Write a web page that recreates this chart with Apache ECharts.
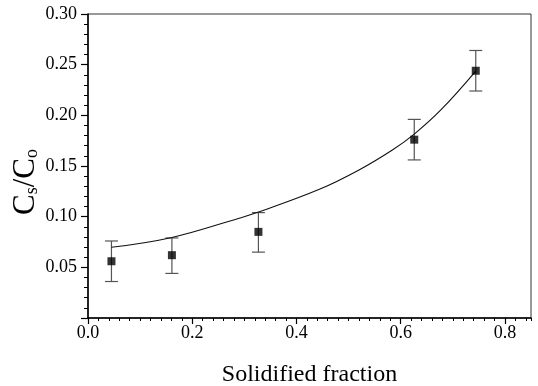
<!DOCTYPE html>
<html>
<head>
<meta charset="utf-8">
<script src="https://cdn.jsdelivr.net/npm/echarts@6/dist/echarts.min.js"></script>
<style>
html,body{margin:0;padding:0;background:#fff;}
#chart{width:538px;height:386px;}
</style>
</head>
<body>
<div id="chart"></div>
<script>
// Measured points (solidified fraction vs Cs/Co)
const fraction = [0.045, 0.161, 0.327, 0.626, 0.744];
const ratio = [0.056, 0.062, 0.085, 0.176, 0.244];
const errorLow = [0.036, 0.044, 0.065, 0.156, 0.224];
const errorHigh = [0.076, 0.079, 0.104, 0.196, 0.264];
// Fitted curve
const fitFraction = [0.045, 0.161, 0.29, 0.327, 0.444, 0.52, 0.584, 0.626, 0.677, 0.744];
const fitRatio = [0.0698, 0.0795, 0.0985, 0.1045, 0.127, 0.1461, 0.1658, 0.1815, 0.2053, 0.2437];
// Axis settings
const xRange = [0, 0.85];
const xMajor = 0.2;
const xMinor = 0.02;
const yRange = [0, 0.30];
const yMajor = 0.05;
const xTitle = 'Solidified fraction';
const yTitle = '{c|C}{s|s}{c|/C}{s|o}';

const FONT = 'Liberation Serif';
const chart = echarts.init(document.getElementById('chart'), null, {renderer: 'canvas'});

const option = {
  animation: false,
  backgroundColor: '#fff',
  grid: {left: 88, right: 7, top: 14, bottom: 68, containLabel: false, outerBoundsMode: 'none',
         show: true, borderColor: '#333', borderWidth: 1, backgroundColor: 'transparent'},
  xAxis: [
    {
      type: 'value', min: xRange[0], max: xRange[1], interval: xMajor, position: 'bottom',
      axisLine: {show: true, onZero: false, lineStyle: {color: '#000', width: 1.5}},
      axisTick: {show: true, length: 6, lineStyle: {color: '#000', width: 1.2}},
      axisLabel: {formatter: v => v.toFixed(1), showMaxLabel: false, fontFamily: FONT, fontSize: 18, color: '#000', margin: 6},
      splitLine: {show: false},
      name: xTitle, nameLocation: 'middle', nameGap: 45, nameMoveOverlap: false,
      nameTextStyle: {fontFamily: FONT, fontSize: 24, color: '#000'}
    },
    {
      type: 'value', min: xRange[0], max: xRange[1], interval: xMinor, position: 'bottom',
      axisLine: {show: false}, axisTick: {show: true, length: 3, lineStyle: {color: '#000', width: 1}},
      axisLabel: {show: false}, splitLine: {show: false}
    }
  ],
  yAxis: {
    type: 'value', min: yRange[0], max: yRange[1], interval: yMajor,
    axisLine: {show: true, onZero: false, lineStyle: {color: '#000', width: 1.5}},
    axisTick: {show: true, length: 7, lineStyle: {color: '#000', width: 1.2}},
    minorTick: {show: true, splitNumber: 5, length: 4, lineStyle: {color: '#000', width: 1}},
    axisLabel: {formatter: v => v.toFixed(2), showMinLabel: false, fontFamily: FONT, fontSize: 18, color: '#000', margin: 11},
    splitLine: {show: false}, minorSplitLine: {show: false},
    name: yTitle, nameLocation: 'middle', nameRotate: 90, nameGap: 47, nameMoveOverlap: false,
    nameTextStyle: {
      fontFamily: FONT, color: '#000', padding: [0, 32, 0, 0],
      rich: {
        c: {fontFamily: FONT, fontSize: 31, lineHeight: 31, verticalAlign: 'top', color: '#000'},
        s: {fontFamily: FONT, fontSize: 18, lineHeight: 18, verticalAlign: 'bottom', padding: [18, 0, 0, 0], color: '#000'}
      }
    }
  },
  series: [
    {
      type: 'custom', xAxisIndex: 0, z: 2,
      data: fraction.map((f, i) => [f, errorLow[i], errorHigh[i]]),
      encode: {x: 0, y: [1, 2]},
      renderItem: (params, api) => {
        const x = api.value(0);
        const top = api.coord([x, api.value(2)]);
        const bot = api.coord([x, api.value(1)]);
        const w = 6.5;
        const st = {stroke: '#555', lineWidth: 1.2};
        return {type: 'group', children: [
          {type: 'line', shape: {x1: top[0], y1: top[1], x2: bot[0], y2: bot[1]}, style: st},
          {type: 'line', shape: {x1: top[0] - w, y1: top[1], x2: top[0] + w, y2: top[1]}, style: st},
          {type: 'line', shape: {x1: bot[0] - w, y1: bot[1], x2: bot[0] + w, y2: bot[1]}, style: st}
        ]};
      }
    },
    {
      type: 'line', xAxisIndex: 0, z: 3,
      data: fitFraction.map((f, i) => [f, fitRatio[i]]),
      smooth: 0.4, showSymbol: false, symbol: 'none',
      lineStyle: {color: '#111', width: 1.1}
    },
    {
      type: 'scatter', xAxisIndex: 0, z: 4,
      data: fraction.map((f, i) => [f, ratio[i]]),
      symbol: 'rect', symbolSize: 8,
      itemStyle: {color: '#000'}
    }
  ]
};
chart.setOption(option);
</script>
</body>
</html>
